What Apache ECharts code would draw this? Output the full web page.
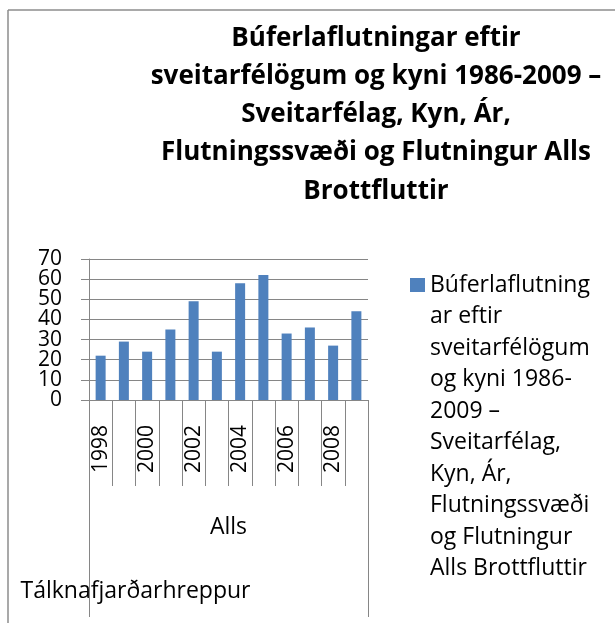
<!DOCTYPE html>
<html>
<head>
<meta charset="utf-8">
<script src="https://cdn.jsdelivr.net/npm/echarts@6/dist/echarts.min.js"></script>
<style>
  html, body { margin: 0; padding: 0; background: #fff; overflow: hidden; }
  #main { width: 615px; height: 623px; }
</style>
</head>
<body>
<div id="main"></div>
<script>
// data
const years = ['1998', '1999', '2000', '2001', '2002', '2003', '2004', '2005', '2006', '2007', '2008', '2009'];
const brottfluttir = [22, 29, 24, 35, 49, 24, 58, 62, 33, 36, 27, 44];
const groupLevel = ['Alls'];
const placeLevel = ['Tálknafjarðarhreppur'];
const yTicks = [0, 10, 20, 30, 40, 50, 60, 70];

const seriesName = 'Búferlaflutningar eftir sveitarfélögum og kyni 1986-2009 – Sveitarfélag, Kyn, Ár, Flutningssvæði og Flutningur Alls Brottfluttir';
const titleLines = [
  'Búferlaflutningar eftir',
  'sveitarfélögum og kyni 1986-2009 –',
  'Sveitarfélag, Kyn, Ár,',
  'Flutningssvæði og Flutningur Alls',
  'Brottfluttir'
];
const legendLines = [
  'Búferlaflutning', 'ar eftir', 'sveitarfélögum', 'og kyni 1986-', '2009 –',
  'Sveitarfélag,', 'Kyn, Ár,', 'Flutningssvæði', 'og Flutningur', 'Alls Brottfluttir'
];

const FONT = 'Open Sans';
const grey = '#868686';
const legendLH = 31.5;
// legend text is centred on its icon, so pad the top with empty lines
// to bring the first line level with the icon
const padLines = legendLines.length - 1;

// labels sit only 20px apart, echarts drops every other one as "overlap",
// so the tick labels are split over two stacked y axes
const yLabel = function (part) {
  return function (v) {
    const r = Math.round(v);
    if (Math.abs(v - r) > 1e-3 || yTicks.indexOf(r) < 0) return '';
    return (yTicks.indexOf(r) % 2 === part) ? String(r) : '';
  };
};

let myChart = echarts.init(document.getElementById('main'), null, { renderer: 'canvas' });

const yBase = {
  type: 'value',
  min: yTicks[0],
  max: yTicks[yTicks.length - 1] + 1e-7,
  interval: 10
};

let option = {
  animation: false,
  textStyle: { fontFamily: FONT, color: '#000' },
  // chart-area frame, only its left and top edges are inside the picture
  graphic: [
    { type: 'line', shape: { x1: 8, y1: 10, x2: 8, y2: 623 }, style: { stroke: '#8c8c8c', lineWidth: 1.5 }, silent: true },
    { type: 'line', shape: { x1: 8, y1: 10, x2: 615, y2: 10 }, style: { stroke: '#8c8c8c', lineWidth: 1.5 }, silent: true }
  ],
  title: {
    text: titleLines.join('\n'),
    left: 376,
    top: 19,
    textAlign: 'center',
    padding: 0,
    textStyle: { fontFamily: FONT, fontWeight: 'bold', fontSize: 26, lineHeight: 38.3, color: '#000' }
  },
  legend: {
    left: 410,
    top: 278 + 7 - (padLines + legendLines.length) * legendLH / 2,
    padding: 0,
    itemWidth: 15,
    itemHeight: 14,
    icon: 'rect',
    formatter: function () { return '\n'.repeat(padLines) + legendLines.join('\n'); },
    textStyle: {
      fontFamily: FONT, fontSize: 23, color: '#000',
      lineHeight: legendLH
    }
  },
  grid: { left: 89, top: 259, width: 279, height: 141, containLabel: false },
  xAxis: [
    {
      type: 'category',
      data: years,
      position: 'bottom',
      axisLine: { show: true, lineStyle: { color: grey } },
      axisTick: { show: true, interval: 0, length: 86, lineStyle: { color: grey } },
      axisLabel: { interval: 1, rotate: 90, margin: 25, fontSize: 21, color: '#000', fontFamily: FONT },
      splitLine: { show: false }
    },
    {
      type: 'category',
      data: groupLevel,
      position: 'bottom',
      axisLine: { show: false },
      axisTick: { show: true, length: 217, lineStyle: { color: grey } },
      axisLabel: { margin: 116, fontSize: 23, color: '#000', fontFamily: FONT },
      splitLine: { show: false }
    },
    {
      type: 'category',
      data: placeLevel,
      position: 'bottom',
      axisLine: { show: false },
      axisTick: { show: false },
      axisLabel: { margin: 180, fontSize: 23, color: '#000', fontFamily: FONT, align: 'right', padding: [0, -22, 0, 0] },
      splitLine: { show: false }
    }
  ],
  yAxis: [
    Object.assign({}, yBase, {
      position: 'left',
      axisLine: { show: true, lineStyle: { color: grey } },
      axisTick: { show: true, length: 8, lineStyle: { color: grey } },
      axisLabel: {
        margin: 27, fontSize: 21, color: '#000', fontFamily: FONT,
        showMinLabel: true, showMaxLabel: true, hideOverlap: false,
        formatter: yLabel(0)
      },
      splitLine: { show: true, showMinLine: true, showMaxLine: true, lineStyle: { color: grey, width: 1 } }
    }),
    Object.assign({}, yBase, {
      position: 'left',
      offset: 0,
      axisLine: { show: false },
      axisTick: { show: false },
      axisLabel: {
        margin: 27, fontSize: 21, color: '#000', fontFamily: FONT,
        showMinLabel: true, showMaxLabel: true, hideOverlap: false,
        formatter: yLabel(1)
      },
      splitLine: { show: false }
    })
  ],
  series: [{
    name: seriesName,
    type: 'bar',
    xAxisIndex: 0,
    yAxisIndex: 0,
    data: brottfluttir,
    barWidth: 10,
    itemStyle: { color: '#4F81BD' }
  }]
};

myChart.setOption(option);
window.onresize = function () {
  myChart.resize();
};
</script>
</body>
</html>
